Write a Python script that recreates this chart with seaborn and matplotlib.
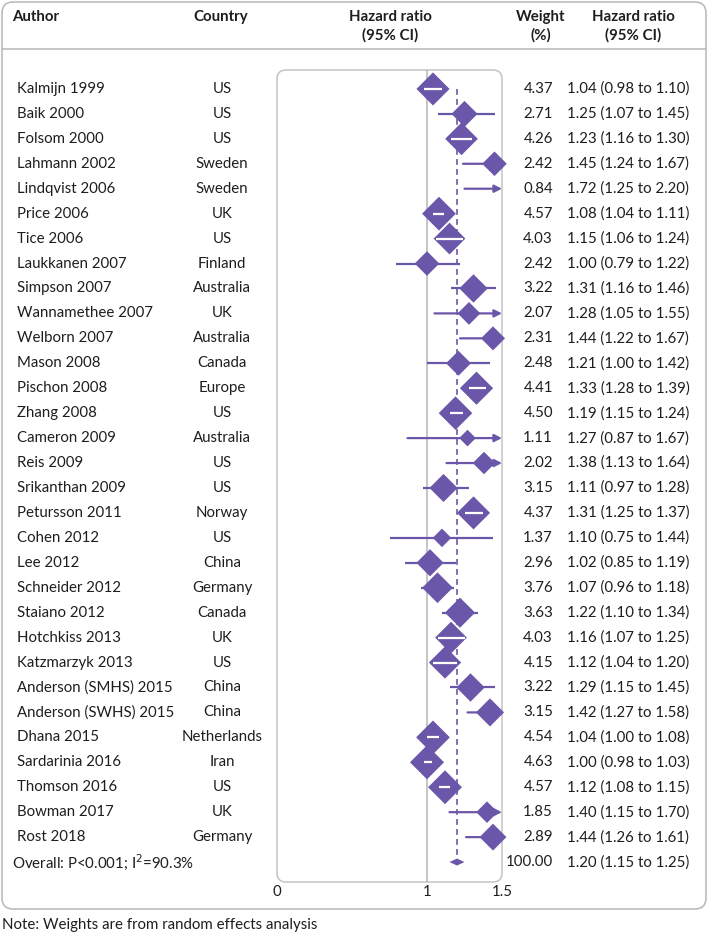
import numpy as np
import pandas as pd
import matplotlib
matplotlib.use("Agg")
import matplotlib.pyplot as plt
import matplotlib.transforms as mtransforms
from matplotlib.patches import FancyBboxPatch, Polygon
import seaborn as sns

authors = ["Kalmijn 1999", "Baik 2000", "Folsom 2000", "Lahmann 2002", "Lindqvist 2006",
           "Price 2006", "Tice 2006", "Laukkanen 2007", "Simpson 2007", "Wannamethee 2007",
           "Welborn 2007", "Mason 2008", "Pischon 2008", "Zhang 2008", "Cameron 2009",
           "Reis 2009", "Srikanthan 2009", "Petursson 2011", "Cohen 2012", "Lee 2012",
           "Schneider 2012", "Staiano 2012", "Hotchkiss 2013", "Katzmarzyk 2013",
           "Anderson (SMHS) 2015", "Anderson (SWHS) 2015", "Dhana 2015", "Sardarinia 2016",
           "Thomson 2016", "Bowman 2017", "Rost 2018"]
countries = ["US", "US", "US", "Sweden", "Sweden", "UK", "US", "Finland", "Australia", "UK",
             "Australia", "Canada", "Europe", "US", "Australia", "US", "US", "Norway", "US",
             "China", "Germany", "Canada", "UK", "US", "China", "China", "Netherlands", "Iran",
             "US", "UK", "Germany"]
weights = [4.37, 2.71, 4.26, 2.42, 0.84, 4.57, 4.03, 2.42, 3.22, 2.07, 2.31, 2.48, 4.41, 4.50,
           1.11, 2.02, 3.15, 4.37, 1.37, 2.96, 3.76, 3.63, 4.03, 4.15, 3.22, 3.15, 4.54, 4.63,
           4.57, 1.85, 2.89]
hr = [1.04, 1.25, 1.23, 1.45, 1.72, 1.08, 1.15, 1.00, 1.31, 1.28, 1.44, 1.21, 1.33, 1.19,
      1.27, 1.38, 1.11, 1.31, 1.10, 1.02, 1.07, 1.22, 1.16, 1.12, 1.29, 1.42, 1.04, 1.00,
      1.12, 1.40, 1.44]
lo = [0.98, 1.07, 1.16, 1.24, 1.25, 1.04, 1.06, 0.79, 1.16, 1.05, 1.22, 1.00, 1.28, 1.15,
      0.87, 1.13, 0.97, 1.25, 0.75, 0.85, 0.96, 1.10, 1.07, 1.04, 1.15, 1.27, 1.00, 0.98,
      1.08, 1.15, 1.26]
hi = [1.10, 1.45, 1.30, 1.67, 2.20, 1.11, 1.24, 1.22, 1.46, 1.55, 1.67, 1.42, 1.39, 1.24,
      1.67, 1.64, 1.28, 1.37, 1.44, 1.19, 1.18, 1.34, 1.25, 1.20, 1.45, 1.58, 1.08, 1.03,
      1.15, 1.70, 1.61]
overall_label = "Overall: P<0.001; I$^2$=90.3%"
overall_weight = 100.00
overall_hr, overall_lo, overall_hi = 1.20, 1.15, 1.25
x_ticks = [0, 1, 1.5]
x_ticklabels = ["0", "1", "1.5"]
note = "Note: Weights are from random effects analysis"

purple = "#6B57A9"
grey = "#bcbcbc"
txt = "#1e1e1e"
W, H = 709, 936
XMAX = 1.5
AREA_PER_WEIGHT = 65.0  # pt^2 per % weight

sns.set_style("white")
plt.rcParams["font.family"] = ["Lato", "DejaVu Sans"]
fs = 10.8

df = pd.DataFrame({"author": authors, "country": countries, "weight": weights,
                   "hr": hr, "lo": lo, "hi": hi})
df["row"] = np.arange(len(df))
n = len(df)
overall_row = n

fig = plt.figure(figsize=(W / 100, H / 100), dpi=100)

# background axes in pixel units for table layout
bg = fig.add_axes([0, 0, 1, 1])
bg.set_xlim(0, W)
bg.set_ylim(H, 0)
bg.axis("off")

# forest plot axes
box_l, box_r, box_t, box_b = 277, 502, 70, 882
ax = fig.add_axes([box_l / W, 1 - box_b / H, (box_r - box_l) / W, (box_b - box_t) / H])
ax.set_facecolor("none")
ax.set_xlim(0, XMAX)
ax.set_ylim(overall_row + 0.8, -0.76)
for s in ax.spines.values():
    s.set_visible(False)
ax.set_xticks([])
ax.set_yticks([])

# outer frame and header rule
bg.add_patch(FancyBboxPatch((2, 2), W - 5, 907, boxstyle="round,pad=0,rounding_size=11",
                            fc="none", ec=grey, lw=1.2))
bg.plot([2, W - 3], [49, 49], color=grey, lw=1.2)
bg.add_patch(FancyBboxPatch((box_l, box_t), box_r - box_l, box_b - box_t,
                            boxstyle="round,pad=0,rounding_size=9",
                            fc="none", ec="#c4c4c4", lw=1.1))

# reference lines
ax.axvline(1, color="#b5b5b5", lw=1.1, zorder=1)
ax.vlines(overall_hr, 0, overall_row - 0.12, color=purple, lw=1.2,
          linestyles=(0, (3.5, 2.5)), zorder=1)

# confidence intervals
for _, r in df.iterrows():
    if r["hi"] > XMAX:
        ax.annotate("", xy=(XMAX, r["row"]), xytext=(r["lo"], r["row"]),
                    arrowprops=dict(arrowstyle="-|>", color=purple, lw=1.6,
                                    mutation_scale=11, shrinkA=0, shrinkB=0),
                    zorder=2, annotation_clip=False)
    else:
        ax.hlines(r["row"], r["lo"], r["hi"], color=purple, lw=1.6, zorder=2)

# study diamonds (area proportional to weight)
shown = df[df["hr"] <= XMAX]
wmin, wmax = shown["weight"].min(), shown["weight"].max()
sns.scatterplot(data=shown, x="hr", y="row", size="weight",
                sizes=(AREA_PER_WEIGHT * wmin, AREA_PER_WEIGHT * wmax),
                size_norm=(wmin, wmax),
                marker="D", color=purple, edgecolor="none", legend=False, ax=ax, zorder=3)
ax.collections[-1].set_clip_on(False)
ax.set_xlabel("")
ax.set_ylabel("")

# white CI line inside diamonds that contain the whole interval
px_per_unit = (box_r - box_l) / XMAX
for _, r in shown.iterrows():
    diag_px = np.sqrt(2 * AREA_PER_WEIGHT * r["weight"]) / 0.72
    half = diag_px / 2 / px_per_unit
    if r["hr"] - r["lo"] <= half and r["hi"] - r["hr"] <= half:
        ax.hlines(r["row"], r["lo"], r["hi"], color="white", lw=1.6, zorder=4)

# overall diamond
dh = 0.14
ax.add_patch(Polygon([(overall_lo, overall_row), (overall_hr, overall_row - dh),
                      (overall_hi, overall_row), (overall_hr, overall_row + dh)],
                     closed=True, fc=purple, ec="none", zorder=3))

# x tick labels
tick_tr = mtransforms.blended_transform_factory(ax.transData, bg.transData)
for t, lab in zip(x_ticks, x_ticklabels):
    ax.text(t, 892, lab, transform=tick_tr, ha="center", va="center", fontsize=fs, color=txt)

# headers
hdr = dict(fontsize=fs, fontweight="bold", color=txt, va="center")
bg.text(12, 17, "Author", ha="left", **hdr)
bg.text(221, 17, "Country", ha="center", **hdr)
bg.text(390, 17, "Hazard ratio", ha="center", **hdr)
bg.text(390, 35, "(95% CI)", ha="center", **hdr)
bg.text(541, 17, "Weight", ha="center", **hdr)
bg.text(541, 35, "(%)", ha="center", **hdr)
bg.text(633, 17, "Hazard ratio", ha="center", **hdr)
bg.text(633, 35, "(95% CI)", ha="center", **hdr)

# table rows, aligned with the forest plot rows
row_tr = mtransforms.blended_transform_factory(bg.transData, ax.transData)
body = dict(fontsize=fs, color=txt, va="center", transform=row_tr)
for _, r in df.iterrows():
    y = r["row"]
    bg.text(17, y, r["author"], ha="left", **body)
    bg.text(222, y, r["country"], ha="center", **body)
    bg.text(553, y, f"{r['weight']:.2f}", ha="right", **body)
    bg.text(567, y, f"{r['hr']:.2f} ({r['lo']:.2f} to {r['hi']:.2f})", ha="left", **body)

bg.text(12, overall_row, overall_label, ha="left", **body)
bg.text(553, overall_row, f"{overall_weight:.2f}", ha="right", **body)
bg.text(567, overall_row, f"{overall_hr:.2f} ({overall_lo:.2f} to {overall_hi:.2f})", ha="left", **body)

bg.text(2, 925, note, ha="left", va="center", fontsize=fs, color=txt)

fig.savefig("out.png", dpi=100)
